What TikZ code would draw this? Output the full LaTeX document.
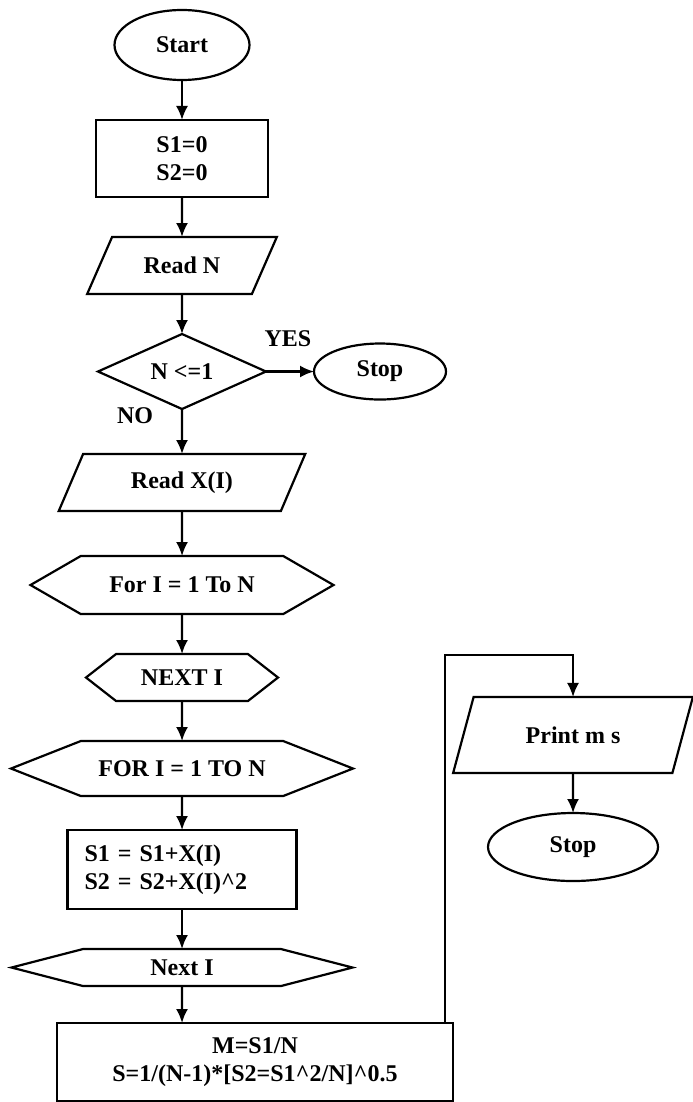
\documentclass[tikz,border=0pt]{standalone}
\usepackage{fontspec}
\setmainfont{Liberation Serif}
\usetikzlibrary{arrows.meta,positioning,shapes.geometric,shapes.symbols}

\begin{document}
\begin{tikzpicture}[x=0.5pt,y=-0.5pt,node distance=20pt,>={Latex[length=7pt,width=6pt]},line width=1.1pt]
  \tikzstyle{base}=[draw,inner sep=0pt,outer sep=0pt,align=center,font=\fontsize{12}{14}\selectfont\bfseries]
  \tikzstyle{terminal}=[base,ellipse]
  \tikzstyle{proc}=[base,rectangle]
  \tikzstyle{io}=[base,trapezium,trapezium stretches=true,trapezium left angle=60,trapezium right angle=120]
  \tikzstyle{decision}=[base,diamond,aspect=2.2]
  \tikzstyle{hexa}=[base,signal,signal to=east and west]
  \tikzstyle{lbl}=[font=\fontsize{12}{14}\selectfont\bfseries]
  \useasboundingbox (0,0) rectangle (692,1102);
  \node[terminal,minimum width=67.5pt,minimum height=35pt] (start) at (182,45) {Start};
  \node[proc,minimum width=86pt,minimum height=38.5pt,below=of start] (init) {S1=0\\S2=0};
  \node[io,trapezium left angle=51,trapezium right angle=129,minimum width=95pt,minimum height=28.5pt,below=of init] (readn) {Read N};
  \node[decision,minimum width=84pt,minimum height=37.5pt,below=of readn] (dec) {N <=1};
  \node[terminal,minimum width=66pt,minimum height=28pt,right=24pt of dec] (stop1) {Stop};
  \node[lbl] (yes) at ([xshift=11pt,yshift=16.5pt]dec.east) {YES};
  \node[lbl] (no) at ([xshift=-23.5pt,yshift=-3.5pt]dec.south) {NO};
  \node[io,minimum width=123.5pt,minimum height=28.5pt,below=22.5pt of dec] (readx) {Read X(I)};
  \node[hexa,signal pointer angle=60,minimum width=151.5pt,minimum height=29pt,below=22.5pt of readx] (forone) {For I = 1 To N};
  \node[hexa,signal pointer angle=76,minimum width=96pt,minimum height=23.5pt,below=of forone] (nexta) {NEXT I};
  \node[hexa,signal pointer angle=43,minimum width=171pt,minimum height=27.5pt,below=of nexta] (fortwo) {FOR I = 1 TO N};
  \node[proc,align=left,text width=97.5pt,inner xsep=8.5pt,minimum height=39.5pt,below=17pt of fortwo] (sums) {S1 = S1+X(I)\\S2 = S2+X(I)\textasciicircum2};
  \node[hexa,signal pointer angle=29,minimum width=170.5pt,minimum height=18.5pt,below=of sums] (nextb) {Next I};
  \node[proc,minimum width=198pt,minimum height=39pt,below=18.5pt of nextb,xshift=36.5pt] (calc) {M=S1/N\\S=1/(N-1)*[S2=S1\textasciicircum2/N]\textasciicircum0.5};
  \node[io,minimum width=120pt,minimum height=38pt] (prnt) at (573,735) {Print m s};
  \node[terminal,minimum width=85pt,minimum height=34pt,below=of prnt] (stop2) {Stop};
  \foreach \a/\b in {start/init,init/readn,readn/dec,dec/readx,readx/forone,forone/nexta,nexta/fortwo,fortwo/sums,sums/nextb,prnt/stop2}
    \draw[->] (\a) -- (\b);
  \draw[->] (dec) -- (stop1);
  \draw[->] (nextb) -- (nextb |- calc.north);
  \draw[->] ([xshift=-4pt]calc.north east) |- ([yshift=21pt]prnt.north) -- (prnt.north);
\end{tikzpicture}
\end{document}
